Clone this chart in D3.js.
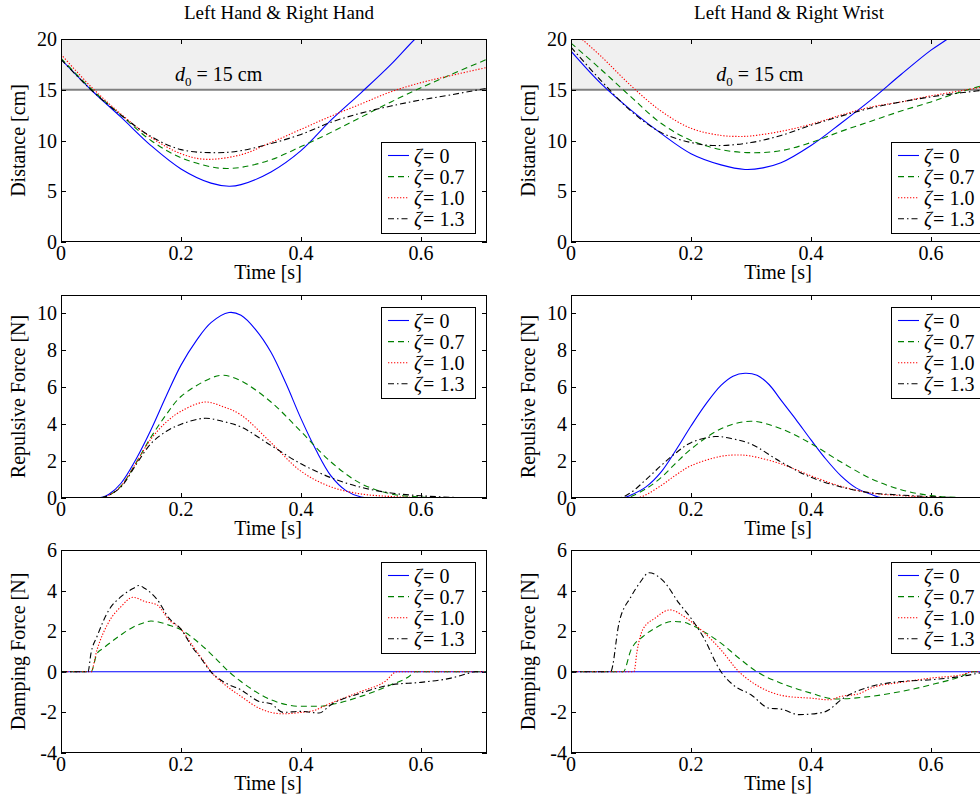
<!DOCTYPE html>
<html><head><meta charset="utf-8">
<script src="https://cdn.jsdelivr.net/npm/d3@7/dist/d3.min.js"></script>
<style>
body{margin:0;background:#fff}
text{font-family:"Liberation Serif","Times New Roman",serif;fill:#000}
</style>
</head><body><svg id="c" width="980" height="800"></svg>
<script>
// ---------- labels / ticks ----------
const titles = ["Left Hand & Right Hand", "Left Hand & Right Wrist"];
const zetaLabels = ["0", "0.7", "1.0", "1.3"];
const xTicks = [0, 0.2, 0.4, 0.6];
const distTicks = [0, 5, 10, 15, 20];
const repTicks = [0, 2, 4, 6, 8, 10];
const dampTicks = [-4, -2, 0, 2, 4, 6];
const yLabels = ["Distance [cm]", "Repulsive Force [N]", "Damping Force [N]"];
const xLabel = "Time [s]";
const d0 = 15;

// ---------- data: Left Hand & Right Hand ----------
const distHH_z0  = [[0,18.0],[0.05,15.0],[0.1,12.3],[0.15,9.5],[0.2,7.2],[0.25,5.8],[0.28,5.5],[0.3,5.65],[0.35,6.9],[0.4,9.0],[0.45,12.0],[0.5,14.7],[0.55,17.5],[0.59,20],[0.62,21.6]];
const distHH_z07 = [[0,18.1],[0.05,15.1],[0.1,12.5],[0.15,10.0],[0.2,8.3],[0.25,7.4],[0.27,7.25],[0.3,7.35],[0.35,8.1],[0.4,9.4],[0.45,10.8],[0.5,12.3],[0.55,13.8],[0.6,15.2],[0.65,16.5],[0.71,18.0]];
const distHH_z10 = [[0,18.5],[0.05,15.3],[0.1,12.6],[0.15,10.3],[0.2,8.7],[0.24,8.15],[0.3,8.6],[0.35,9.8],[0.4,11.1],[0.45,12.4],[0.5,13.6],[0.55,14.8],[0.6,15.7],[0.65,16.4],[0.71,17.2]];
const distHH_z13 = [[0,18.0],[0.05,15.0],[0.1,12.5],[0.15,10.4],[0.2,9.1],[0.26,8.8],[0.3,9.0],[0.35,9.7],[0.4,10.6],[0.45,11.8],[0.5,12.7],[0.55,13.4],[0.6,14.0],[0.65,14.5],[0.71,15.15]];

const repHH_z0  = [[0,0],[0.06,0],[0.07,0.05],[0.08,0.2],[0.1,0.8],[0.125,2.1],[0.15,3.7],[0.175,5.5],[0.2,7.2],[0.225,8.5],[0.25,9.5],[0.28,10.05],[0.3,9.9],[0.325,9.1],[0.35,7.9],[0.375,6.2],[0.4,4.3],[0.425,2.6],[0.45,1.2],[0.475,0.4],[0.5,0.05],[0.52,0],[0.71,0]];
const repHH_z07 = [[0,0],[0.065,0],[0.08,0.15],[0.1,0.65],[0.125,1.9],[0.15,3.3],[0.175,4.5],[0.2,5.5],[0.25,6.5],[0.27,6.65],[0.3,6.35],[0.35,5.2],[0.4,3.6],[0.45,1.95],[0.5,0.78],[0.55,0.22],[0.6,0.05],[0.65,0],[0.71,0]];
const repHH_z10 = [[0,0],[0.065,0],[0.08,0.15],[0.1,0.65],[0.125,1.9],[0.15,3.2],[0.175,4.1],[0.2,4.7],[0.24,5.2],[0.27,4.95],[0.3,4.5],[0.35,3.0],[0.4,1.45],[0.45,0.6],[0.5,0.22],[0.55,0.08],[0.6,0.02],[0.65,0],[0.71,0]];
const repHH_z13 = [[0,0],[0.065,0],[0.08,0.15],[0.1,0.6],[0.125,1.8],[0.15,2.95],[0.175,3.6],[0.2,4.0],[0.24,4.32],[0.27,4.15],[0.3,3.85],[0.35,2.85],[0.4,1.85],[0.45,1.1],[0.5,0.58],[0.55,0.27],[0.6,0.12],[0.65,0.04],[0.7,0],[0.71,0]];

const dampHH_z0  = [[0,0],[0.71,0]];
const dampHH_z07 = [[0,0],[0.05,0],[0.06,0.9],[0.07,1.15],[0.1,1.82],[0.12,2.2],[0.136,2.39],[0.15,2.5],[0.18,2.3],[0.2,2.07],[0.22,1.66],[0.24,1.16],[0.26,0.59],[0.28,0],[0.3,-0.48],[0.35,-1.38],[0.4,-1.7],[0.43,-1.7],[0.45,-1.62],[0.5,-1.21],[0.55,-0.64],[0.58,-0.23],[0.59,0],[0.71,0]];
const dampHH_z10 = [[0,0],[0.05,0],[0.06,1.08],[0.08,2.47],[0.1,3.21],[0.12,3.67],[0.14,3.46],[0.16,3.3],[0.18,2.56],[0.2,2.1],[0.22,1.25],[0.24,0.43],[0.25,0],[0.27,-0.56],[0.3,-1.21],[0.33,-1.79],[0.37,-2.07],[0.4,-2.0],[0.42,-1.92],[0.45,-1.54],[0.5,-0.97],[0.54,-0.48],[0.56,0],[0.71,0]];
const dampHH_z13 = [[0,0],[0.045,0],[0.05,0.92],[0.06,1.74],[0.08,3.05],[0.1,3.7],[0.12,4.1],[0.13,4.25],[0.14,4.1],[0.16,3.57],[0.18,2.64],[0.2,2.1],[0.22,1.16],[0.23,0.79],[0.25,0],[0.27,-0.48],[0.3,-0.89],[0.33,-1.46],[0.35,-1.57],[0.37,-2.0],[0.4,-1.95],[0.43,-2.03],[0.45,-1.62],[0.5,-1.05],[0.55,-0.64],[0.6,-0.52],[0.65,-0.31],[0.68,-0.07],[0.69,0],[0.71,0]];

// ---------- data: Left Hand & Right Wrist ----------
const distHW_z0  = [[0,18.8],[0.05,15.6],[0.1,13.0],[0.15,10.7],[0.2,8.7],[0.25,7.6],[0.29,7.15],[0.32,7.3],[0.35,7.8],[0.4,9.5],[0.45,11.7],[0.5,14.0],[0.55,16.5],[0.6,18.9],[0.63,20.1],[0.66,21.4]];
const distHW_z07 = [[0,19.6],[0.05,17.0],[0.1,14.3],[0.15,11.7],[0.2,10.0],[0.25,9.1],[0.3,8.8],[0.35,9.0],[0.4,9.8],[0.45,10.9],[0.5,11.9],[0.55,12.9],[0.6,13.8],[0.65,14.8],[0.71,15.8]];
const distHW_z10 = [[0,20.9],[0.018,20],[0.05,18.3],[0.1,15.4],[0.15,12.9],[0.2,11.2],[0.25,10.5],[0.28,10.4],[0.3,10.45],[0.35,10.9],[0.4,11.6],[0.45,12.5],[0.5,13.3],[0.55,13.8],[0.6,14.4],[0.65,14.9],[0.71,15.5]];
const distHW_z13 = [[0,19.2],[0.05,15.9],[0.1,12.9],[0.15,10.8],[0.2,9.8],[0.24,9.5],[0.3,9.8],[0.35,10.5],[0.4,11.5],[0.45,12.4],[0.5,13.2],[0.55,13.8],[0.6,14.3],[0.65,14.7],[0.71,15.1]];

const repHW_z0  = [[0,0],[0.085,0],[0.1,0.16],[0.125,0.6],[0.15,1.4],[0.175,2.6],[0.2,3.9],[0.225,5.1],[0.25,6.1],[0.27,6.6],[0.29,6.76],[0.31,6.65],[0.33,6.15],[0.35,5.3],[0.375,4.25],[0.4,3.15],[0.425,2.1],[0.45,1.2],[0.475,0.55],[0.5,0.2],[0.52,0],[0.71,0]];
const repHW_z07 = [[0,0],[0.09,0],[0.1,0.08],[0.125,0.5],[0.15,1.1],[0.175,1.9],[0.2,2.65],[0.25,3.75],[0.3,4.16],[0.35,3.75],[0.4,2.95],[0.45,1.95],[0.5,1.05],[0.55,0.45],[0.6,0.13],[0.65,0.02],[0.71,0]];
const repHW_z10 = [[0,0],[0.105,0],[0.12,0.1],[0.15,0.67],[0.175,1.25],[0.2,1.75],[0.25,2.26],[0.28,2.33],[0.3,2.27],[0.35,1.85],[0.4,1.2],[0.45,0.63],[0.5,0.27],[0.55,0.13],[0.6,0.05],[0.65,0],[0.71,0]];
const repHW_z13 = [[0,0],[0.08,0],[0.1,0.3],[0.125,1.0],[0.15,1.75],[0.175,2.45],[0.2,3.0],[0.24,3.33],[0.27,3.2],[0.3,2.93],[0.35,1.95],[0.4,1.12],[0.45,0.6],[0.5,0.28],[0.55,0.16],[0.6,0.07],[0.65,0.02],[0.71,0]];

const dampHW_z0  = [[0,0],[0.71,0]];
const dampHW_z07 = [[0,0],[0.087,0],[0.1,1.08],[0.12,1.74],[0.14,2.15],[0.17,2.48],[0.19,2.43],[0.2,2.31],[0.23,1.82],[0.25,1.41],[0.28,0.67],[0.31,0],[0.35,-0.56],[0.4,-1.05],[0.44,-1.34],[0.5,-1.21],[0.55,-0.97],[0.6,-0.64],[0.65,-0.23],[0.67,0],[0.71,0]];
const dampHW_z10 = [[0,0],[0.105,0],[0.11,1.0],[0.12,2.1],[0.14,2.64],[0.165,3.05],[0.19,2.69],[0.2,2.48],[0.22,1.98],[0.25,1.08],[0.28,0],[0.3,-0.48],[0.33,-0.97],[0.36,-1.21],[0.4,-1.3],[0.43,-1.38],[0.45,-1.21],[0.48,-1.08],[0.5,-0.8],[0.55,-0.52],[0.6,-0.31],[0.65,-0.15],[0.67,0],[0.71,0]];
const dampHW_z13 = [[0,0],[0.066,0],[0.08,2.4],[0.1,3.7],[0.115,4.4],[0.13,4.88],[0.155,4.44],[0.18,3.38],[0.2,2.64],[0.22,1.74],[0.25,0],[0.27,-0.64],[0.3,-1.13],[0.33,-1.79],[0.35,-1.84],[0.38,-2.11],[0.42,-2.0],[0.43,-1.87],[0.45,-1.38],[0.5,-0.72],[0.55,-0.48],[0.6,-0.39],[0.65,-0.23],[0.7,0],[0.71,0]];

// ---------- styles ----------
const seriesStyles = [
  {color:"#0000ff", dash:null},
  {color:"#008000", dash:"6,4"},
  {color:"#ff0000", dash:"1.3,1.7"},
  {color:"#000000", dash:"6,3,1.5,3"}
];

const colX = [61, 571];
const axW = 426;            // 0..0.71
const rowTop = [39, 295, 550];
const axH = 203;
const fs = 20;     // ticks, axis labels, legend
const fsTitle = 19;

const panels = [
  {col:0,row:0,data:[distHH_z0,distHH_z07,distHH_z10,distHH_z13],dom:[0,20],ticks:distTicks,band:true, d0x:0.19, smooth:true},
  {col:0,row:1,data:[repHH_z0,repHH_z07,repHH_z10,repHH_z13],dom:[0,11],ticks:repTicks, smooth:true},
  {col:0,row:2,data:[dampHH_z0,dampHH_z07,dampHH_z10,dampHH_z13],dom:[-4,6],ticks:dampTicks},
  {col:1,row:0,data:[distHW_z0,distHW_z07,distHW_z10,distHW_z13],dom:[0,20],ticks:distTicks,band:true, d0x:0.242, smooth:true},
  {col:1,row:1,data:[repHW_z0,repHW_z07,repHW_z10,repHW_z13],dom:[0,11],ticks:repTicks, smooth:true},
  {col:1,row:2,data:[dampHW_z0,dampHW_z07,dampHW_z10,dampHW_z13],dom:[-4,6],ticks:dampTicks}
];

const svg = d3.select("#c");

panels.forEach((p, i) => {
  const x0 = colX[p.col], y0 = rowTop[p.row];
  const x = d3.scaleLinear().domain([0, 0.71]).range([x0, x0 + axW]);
  const y = d3.scaleLinear().domain(p.dom).range([y0 + axH, y0]);
  const g = svg.append("g");
  const cid = "clip" + i;
  svg.append("clipPath").attr("id", cid).append("rect")
    .attr("x", x0).attr("y", y0).attr("width", axW).attr("height", axH);

  g.append("rect").attr("x", x0).attr("y", y0).attr("width", axW).attr("height", axH).attr("fill", "#fff");

  if (p.band) {
    g.append("rect").attr("x", x0).attr("width", axW)
      .attr("y", y(p.dom[1])).attr("height", y(d0) - y(p.dom[1])).attr("fill", "#f0f0f0");
    g.append("line").attr("x1", x0).attr("x2", x0 + axW).attr("y1", y(d0)).attr("y2", y(d0))
      .attr("stroke", "#808080").attr("stroke-width", 2);
    const t = g.append("text").attr("x", x(p.d0x)).attr("y", y(d0) - 9).attr("font-size", fs);
    t.append("tspan").attr("font-style", "italic").text("d");
    t.append("tspan").attr("font-size", 13).attr("dy", 5).text("0");
    t.append("tspan").attr("dy", -5).text("\u00a0= 15 cm");
  }

  const tl = 5;
  xTicks.forEach(v => {
    const xx = Math.round(x(v)) + 0.5;
    g.append("line").attr("x1", xx).attr("x2", xx).attr("y1", y0 + axH).attr("y2", y0 + axH - tl).attr("stroke", "#000");
    g.append("line").attr("x1", xx).attr("x2", xx).attr("y1", y0).attr("y2", y0 + tl).attr("stroke", "#000");
    g.append("text").attr("x", x(v)).attr("y", y0 + axH + 18).attr("text-anchor", "middle")
      .attr("font-size", fs).text(v === 0 ? "0" : String(v));
  });
  p.ticks.forEach(v => {
    const yy = Math.round(y(v)) + 0.5;
    g.append("line").attr("x1", x0).attr("x2", x0 + tl).attr("y1", yy).attr("y2", yy).attr("stroke", "#000");
    g.append("line").attr("x1", x0 + axW).attr("x2", x0 + axW - tl).attr("y1", yy).attr("y2", yy).attr("stroke", "#000");
    g.append("text").attr("x", x0 - 4).attr("y", y(v)).attr("dy", "0.35em").attr("text-anchor", "end")
      .attr("font-size", fs).text(String(v));
  });

  const line = d3.line().x(d => x(d[0])).y(d => y(d[1]))
    .curve(p.smooth ? d3.curveCatmullRom.alpha(0.5) : d3.curveMonotoneX);
  const lg = g.append("g").attr("clip-path", `url(#${cid})`);
  p.data.forEach((s, k) => {
    lg.append("path").attr("d", line(s)).attr("fill", "none")
      .attr("stroke", seriesStyles[k].color).attr("stroke-width", 1.1)
      .attr("stroke-dasharray", seriesStyles[k].dash);
  });

  g.append("rect").attr("x", x0 + 0.5).attr("y", y0 + 0.5).attr("width", axW - 1).attr("height", axH - 1)
    .attr("fill", "none").attr("stroke", "#000").attr("stroke-width", 1);

  g.append("text").attr("x", x0 + axW / 2 - 6).attr("y", y0 + axH + 37).attr("text-anchor", "middle")
    .attr("font-size", fs).text(xLabel);
  g.append("text").attr("transform", `translate(${x0 - 36},${y0 + axH / 2}) rotate(-90)`)
    .attr("text-anchor", "middle").attr("font-size", fs).text(yLabels[p.row]);

  if (p.row === 0) {
    g.append("text").attr("x", x0 + axW / 2 + 5).attr("y", 19).attr("text-anchor", "middle")
      .attr("font-size", fsTitle).text(titles[p.col]);
  }

  const lw = 94, lh = 91;
  const lx = x0 + axW - 12 - lw;
  const ly = p.row === 0 ? y0 + axH - 9 - lh : y0 + 12;
  const leg = g.append("g");
  leg.append("rect").attr("x", lx + 0.5).attr("y", ly + 0.5).attr("width", lw).attr("height", lh)
    .attr("fill", "#fff").attr("stroke", "#000");
  zetaLabels.forEach((lab, k) => {
    const cy = ly + 13.5 + k * 21.1;
    leg.append("line").attr("x1", lx + 7).attr("x2", lx + 28).attr("y1", cy).attr("y2", cy)
      .attr("stroke", seriesStyles[k].color).attr("stroke-width", 1.1)
      .attr("stroke-dasharray", seriesStyles[k].dash);
    const t = leg.append("text").attr("x", lx + 33).attr("y", cy).attr("dy", "0.35em").attr("font-size", fs);
    t.append("tspan").attr("font-style", "italic").text("\u03b6");
    t.append("tspan").attr("dx", 1).text("= " + lab);
  });
});
</script>
</body></html>
